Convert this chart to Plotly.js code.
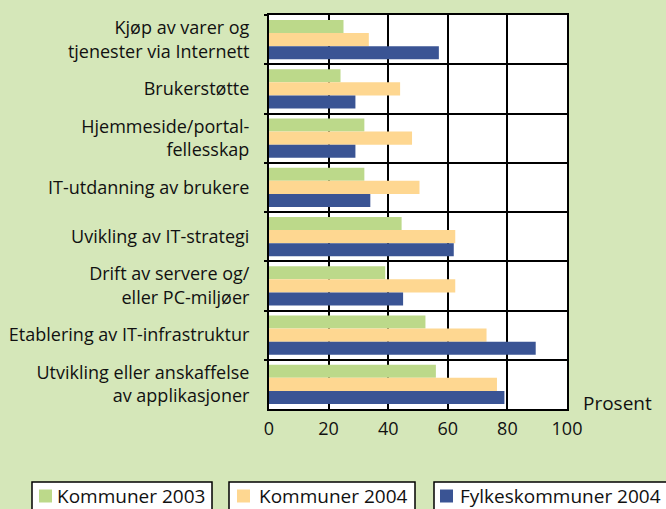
<!DOCTYPE html>
<html>
<head>
<meta charset="utf-8">
<script src="https://cdn.plot.ly/plotly-3.0.1.min.js"></script>
<style>html,body{margin:0;padding:0;background:#d5e7b9;}#chart{width:666px;height:509px;}</style>
</head>
<body>
<div id="chart"></div>
<script>
const categories = [
  "Kjøp av varer og<br>tjenester via Internett",
  "Brukerstøtte",
  "Hjemmeside/portal-<br>fellesskap",
  "IT-utdanning av brukere",
  "Uvikling av IT-strategi",
  "Drift av servere og/<br>eller PC-miljøer",
  "Etablering av IT-infrastruktur",
  "Utvikling eller anskaffelse<br>av applikasjoner"
];
const seriesNames = ["Kommuner 2003", "Kommuner 2004", "Fylkeskommuner 2004"];
const kommuner2003 = [25, 24, 32, 32, 44.5, 39, 52.5, 56];
const kommuner2004 = [33.5, 44, 48, 50.5, 62.5, 62.5, 73, 76.5];
const fylkeskommuner2004 = [57, 29, 29, 34, 62, 45, 89.5, 79];
const xTicks = [0, 20, 40, 60, 80, 100];
const colors = ["#bcd98a", "#fed791", "#3a5494"];
const seriesValues = [kommuner2003, kommuner2004, fylkeskommuner2004];

const W = 666, H = 509;
const M = {l: 269, r: 99, t: 15, b: 100};
const pw = W - M.l - M.r, ph = H - M.t - M.b;
const px2x = p => (p - M.l) / pw;
const py2y = p => (H - M.b - p) / ph;

const FONT = "'Open Sans', 'Noto Sans', sans-serif";
const TXT = "#111111";

const traces = seriesValues.map((vals, i) => ({
  type: "bar",
  orientation: "h",
  name: seriesNames[i],
  x: vals,
  y: categories,
  marker: {color: colors[i], line: {width: 0}},
  showlegend: false,
  hoverinfo: "x+name"
}));

// custom legend: boxed entries
const legendBoxes = [[32, 212], [229, 415], [434, 672]];
const legendSquares = [39, 237, 440];
const legendText = [55, 257, 458];
const shapes = [];
const annotations = [];
seriesNames.forEach((n, i) => {
  shapes.push({type: "rect", xref: "paper", yref: "paper",
    x0: px2x(legendBoxes[i][0]), x1: px2x(legendBoxes[i][1]),
    y0: py2y(482), y1: py2y(515),
    line: {color: "#000", width: 1.5}, fillcolor: "#ffffff", layer: "above"});
  shapes.push({type: "rect", xref: "paper", yref: "paper",
    x0: px2x(legendSquares[i]), x1: px2x(legendSquares[i] + 13),
    y0: py2y(489.5), y1: py2y(502.5),
    line: {width: 0}, fillcolor: colors[i], layer: "above"});
  annotations.push({xref: "paper", yref: "paper", x: px2x(legendText[i]), y: py2y(496),
    xanchor: "left", yanchor: "middle", showarrow: false, text: n,
    font: {family: FONT, size: 19, color: TXT}});
});
annotations.push({xref: "paper", yref: "paper", x: 1, y: 0, xanchor: "left", yanchor: "middle",
  xshift: 14, yshift: 6, showarrow: false, text: "Prosent",
  font: {family: FONT, size: 19, color: TXT}});

const layout = {
  width: W, height: H,
  margin: M,
  paper_bgcolor: "#d5e7b9",
  plot_bgcolor: "#ffffff",
  barmode: "group",
  bargap: 0.2,
  bargroupgap: 0,
  showlegend: false,
  font: {family: FONT, color: TXT},
  xaxis: {
    range: [0, 100],
    tickvals: xTicks,
    ticktext: xTicks.map(String),
    showgrid: true, gridcolor: "#000", gridwidth: 2,
    showline: true, linecolor: "#000", linewidth: 2, mirror: true,
    ticks: "", zeroline: false,
    ticklabelstandoff: 2,
    tickfont: {family: FONT, size: 18, color: TXT}
  },
  yaxis: {
    type: "category",
    autorange: "reversed",
    tickson: "boundaries",
    ticks: "outside", ticklen: 3, tickwidth: 2, tickcolor: "#000",
    showgrid: true, gridcolor: "#000", gridwidth: 2,
    showline: true, linecolor: "#000", linewidth: 2, mirror: true,
    ticklabelstandoff: 14,
    tickfont: {family: FONT, size: 18, color: TXT}
  },
  shapes: shapes,
  annotations: annotations
};

Plotly.newPlot("chart", traces, layout, {displayModeBar: false, staticPlot: true});
</script>
</body>
</html>
